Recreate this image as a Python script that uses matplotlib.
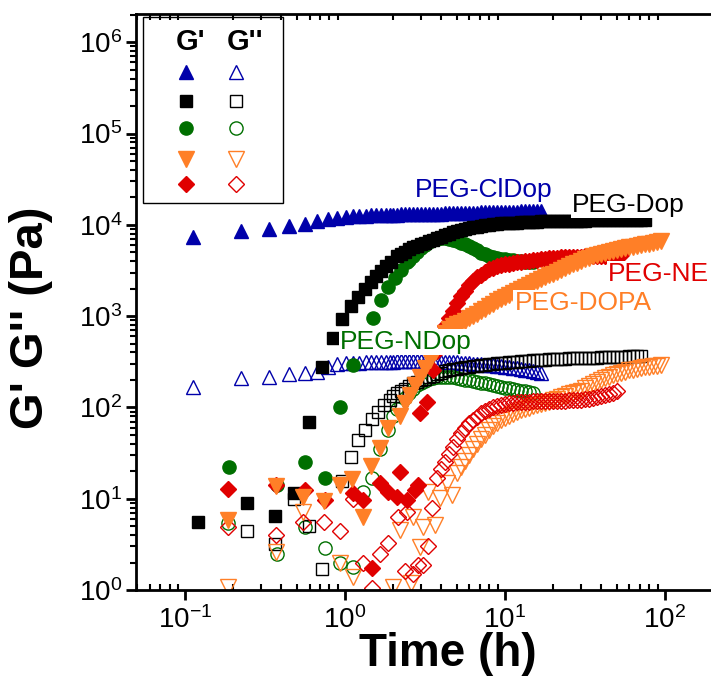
import numpy as np
import matplotlib
matplotlib.use('Agg')
import matplotlib.pyplot as plt
from matplotlib.ticker import LogLocator, NullFormatter
from matplotlib.patches import Rectangle

plt.rcParams['font.family'] = ['Liberation Sans', 'DejaVu Sans']
plt.rcParams['mathtext.fontset'] = 'custom'
plt.rcParams['mathtext.rm'] = 'Liberation Sans'
plt.rcParams['mathtext.default'] = 'regular'

# sampling times of the dense part of the curves (h)
t_band = [2.0, 2.12, 2.24, 2.38, 2.52, 2.67, 2.83, 2.99, 3.17, 3.36,
          3.56, 3.77, 3.99, 4.23, 4.48, 4.74, 5.02, 5.32, 5.64, 5.97,
          6.32, 6.70, 7.10, 7.52, 7.96, 8.43, 8.93, 9.46, 10.0, 10.6,
          11.2, 11.9, 12.6, 13.3, 14.1, 15.0, 15.8, 16.8, 17.8, 18.8,
          19.9, 21.1, 22.4, 23.7, 25.1, 26.6, 28.2, 29.9, 31.6, 33.5,
          35.5, 37.6, 39.8, 42.2, 44.7, 47.3, 50.1, 53.1, 56.2, 59.6,
          63.1, 66.8, 70.8, 75.0, 79.4, 84.1, 89.1, 94.4]

x_ticks = [0.1, 1, 10, 100]
y_ticks = [1, 10, 100, 1e3, 1e4, 1e5, 1e6]

# PEG-ClDop
t_cl = [0.112, 0.224, 0.336, 0.448, 0.56, 0.672, 0.784, 0.896, 1.008, 1.12, 1.232,
        1.344, 1.456, 1.568, 1.68, 1.792, 1.904]
gp_cl = [7400, 8550, 9000, 9700, 10300, 11000, 11600, 12000, 12200, 12400, 12500,
         12600, 12700, 12700, 12800, 12800, 12900]
gpp_cl = [167, 210, 215, 233, 240, 245, 277, 300, 305, 308, 310, 312, 313, 314, 315,
          316, 317]
gp_cl_band = [12900, 12950, 13000, 13000, 13050, 13100, 13100, 13150, 13200, 13200,
              13250, 13300, 13300, 13350, 13400, 13400, 13450, 13500, 13500, 13550,
              13600, 13600, 13650, 13700, 13700, 13750, 13800, 13800, 13850, 13900,
              13900, 13950, 14000, 14000, 14000, 14050, 14050, 14100]
gpp_cl_band = [318, 319, 319, 320, 320, 320, 320, 320, 320, 319,
               319, 318, 318, 316, 315, 313, 311, 309, 307, 304,
               302, 299, 296, 294, 291, 288, 285, 282, 279, 276,
               272, 268, 264, 260, 255, 250, 246, 240]

# PEG-Dop
t_dop = [0.12, 0.244, 0.365, 0.48, 0.596, 0.718, 0.841, 0.958, 1.09, 1.21, 1.33,
         1.45, 1.57, 1.69, 1.81, 1.93]
gp_dop = [5.6, 9.0, 6.5, 11.5, 69, 277, 577, 930, 1290, 1600, 2000, 2350, 2750,
          3150, 3500, 3900]
gp_dop_band = [4600, 4850, 5100, 5400, 5650, 5850, 6100, 6350, 6600, 6850,
               7100, 7400, 7700, 8000, 8250, 8500, 8750, 8950, 9150, 9350,
               9550, 9750, 9900, 10000, 10150, 10250, 10350, 10450, 10500, 10550,
               10600, 10650, 10700, 10750, 10800, 10850, 10900, 10900, 10950, 11000,
               11000, 11050, 11050, 11100, 11100, 11100, 11150, 11150,
               11200, 11200, 11200, 11200, 11200, 11200, 11200, 11200, 11200, 11200,
               11200, 11200, 11200, 11200, 11200]
t_dop2 = [0.244, 0.365, 0.48, 0.596, 0.718, 0.958, 1.09, 1.21, 1.33, 1.47, 1.6,
          1.75, 1.9]
gpp_dop = [4.4, 3.2, 10, 5.0, 1.7, 15.5, 28.6, 44, 57, 74, 90, 105, 120]
gpp_dop_band = [135, 144, 152, 161, 172, 183, 191, 199, 207, 214,
                222, 233, 241, 249, 255, 261, 266, 271, 276, 280,
                283, 287, 291, 294, 298, 301, 304, 307, 310, 312,
                315, 317, 320, 322, 325, 328, 330, 332, 334, 335,
                337, 339, 340, 342, 344, 345, 346, 347, 349, 350,
                351, 352, 353, 355, 356, 357, 359, 360, 361, 362,
                363, 364, 366]

# PEG-NDop
t_nd = [0.188, 0.375, 0.56, 0.75, 0.93, 1.12, 1.31, 1.50, 1.69, 1.87, 2.06, 2.25,
        2.44]
gp_nd = [22, 14, 25, 17, 100, 290, 550, 950, 1500, 2100, 2600, 3200, 3900]
gp_nd_band = [4150, 4600, 5100, 5550, 6050, 6500, 6850, 7050, 7150, 7100,
              7000, 6850, 6600, 6350, 6100, 5800, 5550, 5250, 4950, 4750,
              4550, 4450, 4350, 4250, 4200, 4150, 4100, 4050, 4000, 3950,
              3950, 3900]
t_nd2 = [0.186, 0.375, 0.56, 0.75, 0.93, 1.12, 1.30, 1.48, 1.66, 1.85]
gpp_nd = [5.4, 2.5, 4.9, 2.9, 2.0, 1.8, 11.8, 17, 35, 57]
gpp_nd_band = [80, 95, 110, 127, 143, 160, 174, 186, 197, 204,
               209, 213, 215, 216, 215, 213, 210, 206, 202, 198,
               194, 190, 186, 183, 180, 176, 172, 168, 165, 162,
               159, 156, 153, 150, 146, 143]

# PEG-NE
t_ne = [0.186, 0.37, 0.56, 0.75, 1.12, 1.30, 1.47, 1.65, 1.86, 2.11, 2.2, 2.44,
        2.74, 2.86, 2.94, 3.25]
gp_ne = [12.8, 14, 12.4, 9.7, 11.5, 9.7, 1.74, 14.9, 11.8, 10.4, 19.6, 9.7, 12.4,
         14, 87, 115]
gp_ne_band = [260, 420, 580, 780, 960, 1150, 1400, 1650, 1900, 2180,
              2400, 2650, 2850, 3050, 3250, 3400, 3500, 3600, 3680, 3750,
              3820, 3880, 3950, 4000, 4050, 4100, 4150, 4200, 4250, 4300,
              4350, 4380, 4400, 4400, 4430, 4450, 4450, 4470, 4500, 4500,
              4520, 4550, 4550, 4570, 4600, 4600, 4620, 4650]
t_ne2 = [0.186, 0.37, 0.55, 0.74, 0.93, 1.12, 1.30, 1.47, 1.65, 1.86, 2.15, 2.37,
         2.44, 2.66, 2.86, 3.07, 3.3, 3.5]
gpp_ne = [4.9, 4.0, 5.6, 5.6, 4.4, 10, 2.0, 1.05, 2.5, 3.3, 6.3, 1.6, 7.1, 1.5,
          1.9, 1.9, 3.0, 7.9]
gpp_ne_band = [17, 21, 25, 31, 37, 45, 52, 60, 67, 73,
               79, 86, 91, 96, 100, 104, 107, 110, 112, 113,
               114, 115, 116, 116, 117, 117, 118, 118, 118, 118,
               119, 119, 119, 120, 120, 121, 122, 123, 125, 126,
               129, 132, 136, 140, 145, 150]

# PEG-DOPA
t_dopa = [0.186, 0.37, 0.55, 0.74, 0.93, 1.11, 1.30, 1.45, 1.65, 1.85, 2.2, 2.37,
          2.55, 2.74, 2.94, 3.16, 3.4, 3.65]
gp_dopa = [5.8, 13.8, 10.4, 9.4, 14, 16.4, 6.3, 23, 36, 60, 80, 111, 137, 176, 215,
           270, 330, 405]
gp_dopa_band = [450, 560, 660, 720, 770, 810, 850, 895, 950, 1000,
                1060, 1130, 1210, 1280, 1360, 1460, 1540, 1610, 1690, 1790,
                1880, 1970, 2060, 2200, 2320, 2430, 2560, 2680, 2800, 2930,
                3070, 3220, 3370, 3520, 3680, 3850, 4030, 4200, 4370, 4530,
                4690, 4820, 4950, 5080, 5200, 5330, 5450, 5560, 5670, 5780,
                5890, 6000, 6120, 6240, 6360, 6480, 6600]
t_dopa2 = [0.186, 0.37, 0.55, 0.93, 1.12, 2.0, 2.2, 2.6, 2.66, 2.94, 3.07, 3.3,
           3.65, 3.92, 4.34, 4.66]
gpp_dopa = [1.08, 2.6, 7.2, 2.0, 1.4, 1.08, 4.5, 1.2, 6.3, 2.95, 4.9, 11.8, 5.1,
            10.2, 14.8, 11]
gpp_dopa_band = [19, 22, 26, 30, 35, 40, 45, 50, 56, 62,
                 68, 73, 77, 81, 85, 89, 93, 96, 99, 103,
                 106, 109, 112, 116, 120, 124, 129, 134, 139, 144,
                 148, 153, 162, 171, 180, 190, 199, 209, 216, 224,
                 233, 240, 247, 254, 260, 266, 271, 275, 280, 284,
                 287, 290]

c_blue = '#0000AA'
c_black = '#000000'
c_green = '#006F00'
c_red = '#E00000'
c_orange = '#FF7F27'


def full(t_early, g_early, start, band):
    # early sparse points + dense band starting at t_band[start]
    t = list(t_early) + t_band[start:start + len(band)]
    g = list(g_early) + list(band)
    return t, g


fig = plt.figure(figsize=(7.11, 6.92), dpi=100)
ax = fig.add_axes([0.1913, 0.1474, 0.8087, 0.8324])

# G'' (open symbols)
opn = dict(ls='none', mfc='none', mew=1.0)
t, g = full(t_cl, gpp_cl, 0, gpp_cl_band)
ax.plot(t, g, marker='^', ms=10, mec=c_blue, **opn)
t, g = full(t_nd2, gpp_nd, 0, gpp_nd_band)
ax.plot(t, g, marker='o', ms=9.5, mec=c_green, **opn)
t, g = full(t_dop2, gpp_dop, 0, gpp_dop_band)
ax.plot(t, g, marker='s', ms=8, mec=c_black, **opn)
t, g = full(t_dopa2, gpp_dopa, 16, gpp_dopa_band)
ax.plot(t, g, marker='v', ms=11, mec=c_orange, **opn)
t, g = full(t_ne2, gpp_ne, 11, gpp_ne_band)
ax.plot(t, g, marker='D', ms=8.5, mec=c_red, **opn)

# G' (filled symbols)
t, g = full(t_cl, gp_cl, 0, gp_cl_band)
ax.plot(t, g, ls='none', marker='^', ms=10, color=c_blue)
t, g = full(t_nd, gp_nd, 4, gp_nd_band)
ax.plot(t, g, ls='none', marker='o', ms=9.5, color=c_green)
t, g = full(t_dop, gp_dop, 1, gp_dop_band)
ax.plot(t, g, ls='none', marker='s', ms=8, color=c_black)
t, g = full(t_ne, gp_ne, 10, gp_ne_band)
ax.plot(t, g, ls='none', marker='D', ms=8.5, color=c_red)
t, g = full(t_dopa, gp_dopa, 11, gp_dopa_band)
ax.plot(t, g, ls='none', marker='v', ms=11, color=c_orange)

ax.set_xscale('log')
ax.set_yscale('log')
ax.set_xticks(x_ticks)
ax.set_yticks(y_ticks)
ax.set_xlim(0.0494, 194)
ax.set_ylim(1, 2.04e6)

# curve labels
box = dict(facecolor='white', edgecolor='none', pad=1)
ax.text(2.74, 24000, 'PEG-ClDop', color=c_blue, fontsize=19, va='center', bbox=box, zorder=10)
ax.text(26.2, 16500, 'PEG-Dop', color=c_black, fontsize=19, va='center', bbox=box, zorder=10)
ax.text(44, 2900, 'PEG-NE', color=c_red, fontsize=19, va='center', bbox=box, zorder=10)
ax.text(11.5, 1390, 'PEG-DOPA', color=c_orange, fontsize=19, va='center', bbox=box, zorder=10)
ax.text(0.93, 520, 'PEG-NDop', color=c_green, fontsize=19, va='center', bbox=box, zorder=10)

# hand-made legend
tr = ax.transAxes
ax.add_patch(Rectangle((0.0122, 0.672), 0.2435, 0.3228, transform=tr, fill=False,
                       edgecolor='black', lw=1.0, zorder=11))
ax.text(0.095, 0.952, "G'", transform=tr, fontsize=21, fontweight='bold', ha='center', va='center')
ax.text(0.190, 0.952, "G''", transform=tr, fontsize=21, fontweight='bold', ha='center', va='center')
rows = [0.900, 0.849, 0.802, 0.749, 0.705]
syms = [('^', c_blue, 10), ('s', c_black, 8), ('o', c_green, 9.5), ('v', c_orange, 11), ('D', c_red, 8.5)]
for yr, (m, c, s) in zip(rows, syms):
    ax.plot([0.087], [yr], marker=m, ms=s, color=c, transform=tr, clip_on=False)
    ax.plot([0.174], [yr], marker=m, ms=s, mfc='none', mec=c, mew=1.0, transform=tr, clip_on=False)

# axes styling
for side in ['left', 'bottom', 'top']:
    ax.spines[side].set_linewidth(2.0)
ax.spines['right'].set_visible(False)

ax.xaxis.set_minor_locator(LogLocator(base=10, subs=np.arange(2, 10), numticks=100))
ax.yaxis.set_minor_locator(LogLocator(base=10, subs=np.arange(2, 10), numticks=100))
ax.xaxis.set_minor_formatter(NullFormatter())
ax.yaxis.set_minor_formatter(NullFormatter())

ax.tick_params(axis='y', which='major', direction='out', length=7, width=2, labelsize=20, pad=3)
ax.tick_params(axis='y', which='minor', direction='out', length=4, width=1.5)
ax.tick_params(axis='x', which='major', direction='out', length=7, width=2, labelsize=20, pad=5)
ax.tick_params(axis='x', which='minor', direction='in', length=4, width=1.5, top=True)

ax.set_xlabel('Time (h)', fontsize=33, fontweight='bold')
ax.set_ylabel("G' G'' (Pa)", fontsize=34, fontweight='bold')
ax.xaxis.set_label_coords(0.543, -0.073)
ax.yaxis.set_label_coords(-0.145, 0.472)

fig.savefig('out.png', dpi=100)
